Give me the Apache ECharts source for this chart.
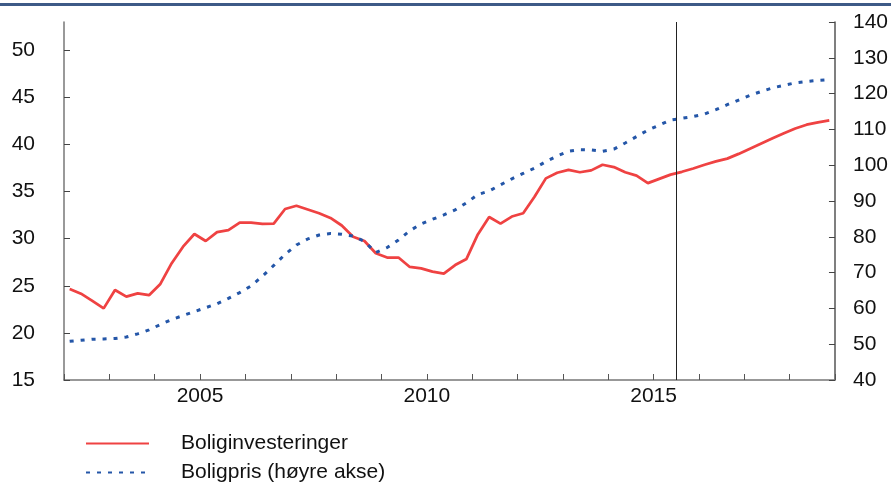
<!DOCTYPE html>
<html>
<head>
<meta charset="utf-8">
<script src="https://cdn.jsdelivr.net/npm/echarts@6/dist/echarts.min.js"></script>
<style>
  html, body { margin: 0; padding: 0; background: #fff; }
  #chart { width: 891px; height: 484px; }
</style>
</head>
<body>
<div id="chart"></div>
<script>
// kvartalsdata 2002K1 - 2018K4
const years = [2002, 2003, 2004, 2005, 2006, 2007, 2008, 2009, 2010, 2011, 2012, 2013, 2014, 2015, 2016, 2017, 2018];
const quarterPos = [0.125, 0.375, 0.625, 0.875]; // midt i kvartalet

const boliginvesteringer = [
  24.66, 24.16, 23.4, 22.6, 24.55, 23.85, 24.2, 24.0, 25.2, 27.4,
  29.15, 30.5, 29.75, 30.7, 30.9, 31.7, 31.7, 31.56, 31.6, 33.15,
  33.5, 33.1, 32.7, 32.2, 31.4, 30.2, 29.75, 28.45, 28.0, 28.0,
  27.0, 26.85, 26.5, 26.3, 27.2, 27.85, 30.45, 32.3, 31.6, 32.35,
  32.7, 34.45, 36.4, 37.0, 37.3, 37.05, 37.25, 37.85, 37.6, 37.05,
  36.7, 35.9, 36.35, 36.8, 37.1, 37.45, 37.85, 38.2, 38.5, 39.0,
  39.55, 40.1, 40.65, 41.2, 41.7, 42.1, 42.35, 42.55
];
const boligpris = [
  50.8, 51.1, 51.4, 51.45, 51.6, 52.0, 52.9, 54.0, 55.5, 56.9,
  58.0, 59.1, 60.2, 61.3, 62.8, 64.4, 66.3, 69.0, 72.0, 75.1,
  77.7, 79.4, 80.5, 80.9, 80.7, 80.2, 78.7, 75.6, 77.0, 79.1,
  81.7, 83.6, 84.9, 86.1, 87.5, 89.5, 91.8, 92.8, 94.5, 96.2,
  97.7, 99.2, 101.0, 102.6, 103.9, 104.35, 104.25, 103.9, 104.5, 106.2,
  108.0, 109.8, 111.2, 112.6, 113.1, 113.6, 114.3, 115.5, 116.9, 118.2,
  119.5, 120.6, 121.6, 122.3, 123.0, 123.4, 123.7, 123.9
];

const xTicks = [2002, 2003, 2004, 2005, 2006, 2007, 2008, 2009, 2010, 2011, 2012, 2013, 2014, 2015, 2016, 2017, 2018, 2019];
const xLabels = [2005, 2010, 2015];
const leftTicks = [15, 20, 25, 30, 35, 40, 45, 50];
const rightTicks = [40, 50, 60, 70, 80, 90, 100, 110, 120, 130, 140];
const prognoseStart = 2015.5;

// x-posisjon for hvert kvartal
const xPos = [];
years.forEach(y => quarterPos.forEach(q => xPos.push(y + q)));

const pair = (vals) => vals.map((v, i) => [xPos[i], v]);

const labelFont = { fontFamily: 'Liberation Sans, Arial, sans-serif', fontSize: 21, color: '#111' };

const myChart = echarts.init(document.getElementById('chart'));
const option = {
  animation: false,
  textStyle: { fontFamily: 'Liberation Sans, Arial, sans-serif' },
  graphic: [{
    type: 'rect',
    shape: { x: 0, y: 3, width: 891, height: 3 },
    style: { fill: '#3d5a87' }
  }],
  grid: { left: 64, right: 55, top: 22, bottom: 104 },
  legend: {
    orient: 'vertical',
    left: 85,
    top: 433,
    padding: 0,
    itemWidth: 63,
    itemHeight: 14,
    itemGap: 8,
    itemStyle: { opacity: 0 },
    textStyle: Object.assign({ padding: [0, 0, 0, 27], lineHeight: 21 }, labelFont),
    data: ['Boliginvesteringer', 'Boligpris (høyre akse)']
  },
  xAxis: {
    type: 'value',
    min: 2002,
    max: 2019,
    splitLine: { show: false },
    axisLine: { lineStyle: { color: '#777', width: 1.5 } },
    axisTick: { inside: true, length: 6, customValues: xTicks, lineStyle: { color: '#555' } },
    axisLabel: Object.assign({ customValues: xLabels, margin: 6, formatter: v => String(v) }, labelFont)
  },
  yAxis: [{
    type: 'value',
    min: 15,
    max: 53,
    interval: 5,
    splitLine: { show: false },
    axisLine: { show: true, lineStyle: { color: '#777', width: 1.5 } },
    axisTick: { show: true, inside: true, length: 6, customValues: leftTicks, lineStyle: { color: '#444' } },
    axisLabel: Object.assign({ customValues: leftTicks, margin: 29 }, labelFont)
  }, {
    type: 'value',
    position: 'right',
    min: 40,
    max: 140,
    interval: 10,
    splitLine: { show: false },
    axisLine: { show: true, lineStyle: { color: '#555', width: 1.5 } },
    axisTick: { show: true, inside: true, length: 6, customValues: rightTicks, lineStyle: { color: '#444' } },
    axisLabel: Object.assign({ customValues: rightTicks, margin: 18 }, labelFont)
  }],
  series: [{
    name: 'Boliginvesteringer',
    type: 'line',
    yAxisIndex: 0,
    symbol: 'none',
    data: pair(boliginvesteringer),
    lineStyle: { color: '#ef4242', width: 2.75 },
    itemStyle: { color: '#ef4242' },
    markLine: {
      silent: true,
      symbol: 'none',
      label: { show: false },
      lineStyle: { color: '#222', width: 1, type: 'solid' },
      data: [{ xAxis: prognoseStart }]
    }
  }, {
    name: 'Boligpris (høyre akse)',
    type: 'line',
    yAxisIndex: 1,
    symbol: 'none',
    data: pair(boligpris),
    lineStyle: { color: '#2456a8', width: 3, type: [4, 7] },
    itemStyle: { color: '#2456a8' }
  }]
};
myChart.setOption(option);
</script>
</body>
</html>
